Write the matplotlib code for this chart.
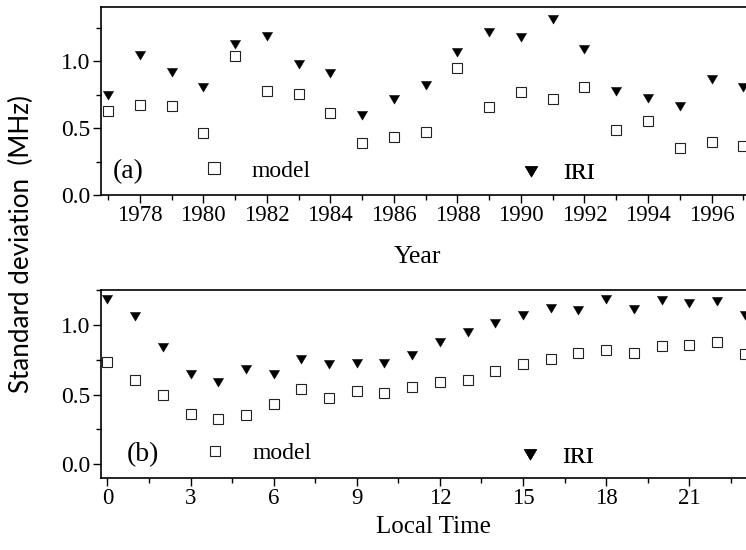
import matplotlib
matplotlib.use('Agg')
import matplotlib.pyplot as plt
from matplotlib.ticker import MultipleLocator, FixedLocator
from matplotlib.lines import Line2D

# ---------------- data ----------------
years = list(range(1977, 1998))
model_year = [0.627, 0.672, 0.667, 0.46, 1.04, 0.776, 0.756, 0.61, 0.386,
              0.435, 0.472, 0.945, 0.654, 0.766, 0.716, 0.803, 0.485, 0.555,
              0.353, 0.393, 0.368]
iri_year = [0.746, 1.045, 0.92, 0.808, 1.127, 1.187, 0.978, 0.913, 0.597,
            0.716, 0.821, 1.07, 1.214, 1.177, 1.311, 1.09, 0.778, 0.721,
            0.664, 0.863, 0.808]

hours = list(range(24))
model_lt = [0.736, 0.605, 0.5, 0.359, 0.325, 0.356, 0.433, 0.542, 0.473, 0.526,
            0.514, 0.557, 0.588, 0.602, 0.672, 0.717, 0.753, 0.8, 0.818, 0.8,
            0.849, 0.858, 0.88, 0.789]
iri_lt = [1.184, 1.066, 0.839, 0.648, 0.593, 0.684, 0.648, 0.753, 0.717, 0.725,
          0.725, 0.784, 0.88, 0.949, 1.016, 1.071, 1.119, 1.107, 1.184, 1.114,
          1.179, 1.159, 1.171, 1.071]

year_ticks = list(range(1978, 1998, 2))
hour_ticks = list(range(0, 24, 3))
y_ticks = [0.0, 0.5, 1.0]
series_labels = ['model', 'IRI']
panel_labels = ['(a)', '(b)']
x_labels = ['Year', 'Local Time']
y_label = 'Standard deviation  (MHz)'

# ---------------- style ----------------
plt.rcParams['font.family'] = ['Liberation Serif', 'DejaVu Serif']
plt.rcParams['mathtext.fontset'] = 'custom'

W, H = 746, 550
fig = plt.figure(figsize=(W / 100, H / 100), dpi=100)

TRI = [(-1.0, 0.8), (1.0, 0.8), (0.0, -0.9), (-1.0, 0.8)]
sq_kw = dict(ls='none', marker='s', ms=6.8, mfc='white', mec='#222222', mew=0.8)
tri_kw = dict(ls='none', marker=TRI, ms=7.4, mfc='black', mec='black', mew=0.3)


def px_axes(left, top, bottom, right=750):
    return [left / W, 1 - bottom / H, (right - left) / W, (bottom - top) / H]


def style_axes(ax):
    for s in ['left', 'bottom', 'top']:
        ax.spines[s].set_linewidth(1.2)
    ax.spines['right'].set_visible(False)
    ax.tick_params(which='major', direction='out', length=5.8, width=1.0,
                   labelsize=16.5, pad=1.5, top=False, right=False)
    ax.tick_params(which='minor', direction='out', length=3.4, width=1.0,
                   top=False, right=False)
    ax.tick_params(axis='y', which='major', pad=2.0, labelsize=17)
    ax.yaxis.set_major_locator(FixedLocator(y_ticks))
    ax.yaxis.set_major_formatter(matplotlib.ticker.FormatStrFormatter('%.1f'))
    ax.yaxis.set_minor_locator(MultipleLocator(0.25))


def add_key(ax, kw, label, x, y, msize, htp):
    h = Line2D([], [], **{**kw, 'ms': msize})
    leg = ax.legend([h], [label], loc='center left', bbox_to_anchor=(x, y),
                    bbox_transform=ax.transAxes, frameon=False, borderpad=0,
                    borderaxespad=0, handlelength=1.0, handletextpad=htp,
                    fontsize=17, numpoints=1)
    ax.add_artist(leg)


# ---------------- panel (a) ----------------
ax1 = fig.add_axes(px_axes(101, 7, 195))
ax1.plot(years, iri_year, **tri_kw)
ax1.plot(years, model_year, **sq_kw)
ax1.set_xlim(1976.78, 1997.21)
ax1.set_ylim(0, 1.403)
style_axes(ax1)
ax1.xaxis.set_major_locator(FixedLocator(year_ticks))
ax1.xaxis.set_minor_locator(MultipleLocator(1))
ax1.set_xlabel(x_labels[0], fontsize=18.5)
ax1.xaxis.set_label_coords(0.487, -0.362)
ax1.xaxis.label.set_va('baseline')
ax1.text(0.0185, 0.0904, panel_labels[0], transform=ax1.transAxes,
         fontsize=20, va='baseline', ha='left')
add_key(ax1, sq_kw, series_labels[0], 0.1553, 0.128, 8.6, 1.12)
add_key(ax1, tri_kw, series_labels[1], 0.645, 0.115, 9.0, 0.84)

# ---------------- panel (b) ----------------
ax2 = fig.add_axes(px_axes(101, 290, 478))
ax2.plot(hours, iri_lt, **tri_kw)
ax2.plot(hours, model_lt, **sq_kw)
ax2.set_xlim(-0.23, 23.19)
ax2.set_ylim(-0.098, 1.25)
style_axes(ax2)
ax2.xaxis.set_major_locator(FixedLocator(hour_ticks))
ax2.xaxis.set_minor_locator(MultipleLocator(1.5))
ax2.set_xlabel(x_labels[1], fontsize=18)
ax2.xaxis.set_label_coords(0.512, -0.2926)
ax2.xaxis.label.set_va('baseline')
ax2.text(0.0396, 0.092, panel_labels[1], transform=ax2.transAxes,
         fontsize=20, va='baseline', ha='left')
add_key(ax2, sq_kw, series_labels[0], 0.1567, 0.131, 7.8, 1.12)
add_key(ax2, tri_kw, series_labels[1], 0.643, 0.113, 9.0, 0.84)

# ---------------- shared y label ----------------
yl = fig.text(21 / W, 1 - 244 / H, y_label, rotation=90, ha='center',
              va='center', fontsize=20, family=['Lato', 'DejaVu Sans'])
fig.canvas.draw()
ext = yl.get_window_extent()
yl.set_fontsize(20 * 298 / ext.height)

fig.savefig('out.png', dpi=100)
